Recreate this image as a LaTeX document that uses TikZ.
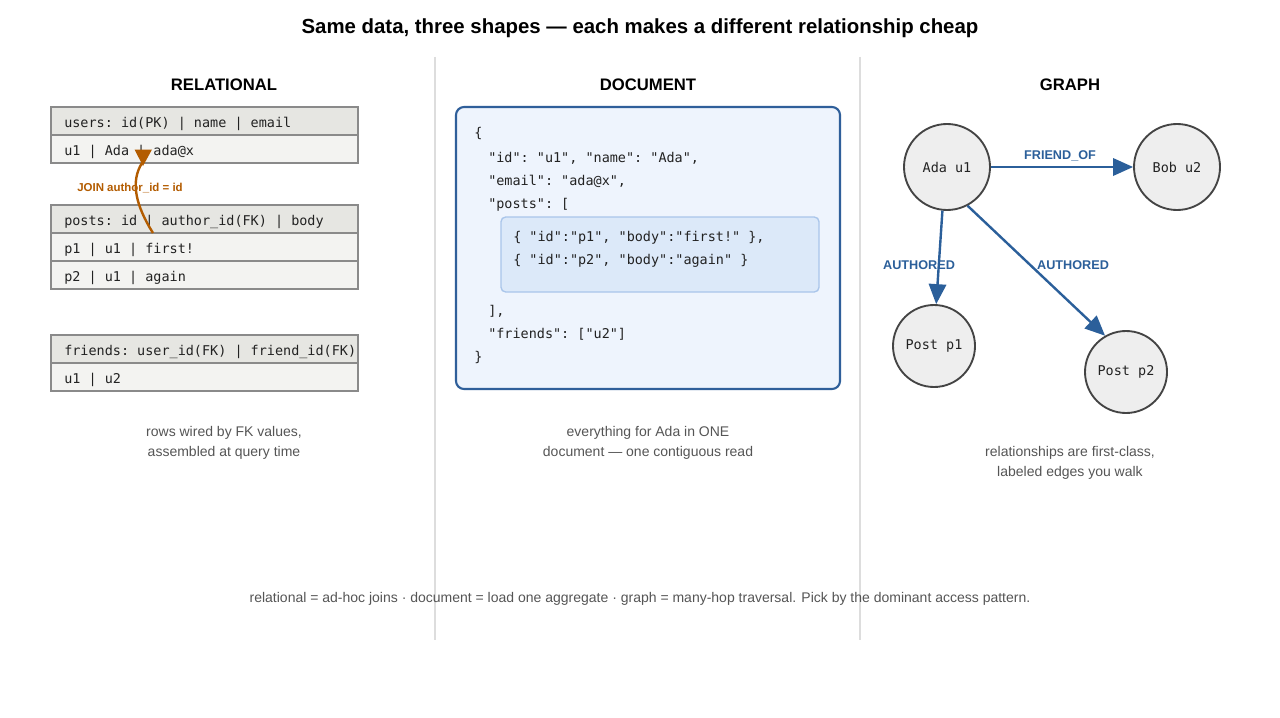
\documentclass[tikz,border=0pt]{standalone}
\usepackage{fontspec}
\setmainfont{Liberation Sans}
\setsansfont{Liberation Sans}
\setmonofont{DejaVu Sans Mono}
\usetikzlibrary{arrows.meta}
\definecolor{tblborder}{HTML}{8A8A8A}
\definecolor{tblhead}{HTML}{E6E6E2}
\definecolor{tblrow}{HTML}{F3F3F1}
\definecolor{txt}{HTML}{222222}
\definecolor{captxt}{HTML}{555555}
\definecolor{divider}{HTML}{DDDDDD}
\definecolor{joincol}{HTML}{B35C00}
\definecolor{docborder}{HTML}{2F5F9A}
\definecolor{docfill}{HTML}{EEF4FD}
\definecolor{innerfill}{HTML}{DCE9F9}
\definecolor{innerborder}{HTML}{A9C5EA}
\definecolor{edgecol}{HTML}{2B5F9A}
\definecolor{nodefill}{HTML}{EEEEEE}
\definecolor{nodeborder}{HTML}{444444}
\tikzset{
  headcell/.style={draw=tblborder, line width=1.1pt, fill=tblhead},
  rowcell/.style={draw=tblborder, line width=1.1pt, fill=tblrow},
  mono/.style={font=\ttfamily\fontsize{10.1}{12}\selectfont, text=txt, anchor=west, inner sep=0pt},
  coltitle/.style={font=\bfseries\fontsize{12.5}{14}\selectfont, text=black},
  caption/.style={font=\fontsize{10.5}{12}\selectfont, text=captxt},
  gnode/.style={circle, draw=nodeborder, line width=1.4pt, fill=nodefill, minimum size=86pt*0.75, inner sep=0pt, font=\ttfamily\fontsize{10.1}{12}\selectfont, text=txt},
  gnodes/.style={gnode, minimum size=82pt*0.75},
  edge/.style={draw=edgecol, line width=1.8pt, -{Triangle[length=15pt,width=13pt]}},
  elabel/.style={font=\bfseries\fontsize{9.5}{11}\selectfont, text=edgecol},
}
\begin{document}
\begin{tikzpicture}[x=0.75pt,y=-0.75pt]
\useasboundingbox (0,0) rectangle (1280,717);
\fill[white] (0,0) rectangle (1280,717);
% title
\node[font=\bfseries\fontsize{15.3}{18}\selectfont, text=black] (title) at (640,28) {Same data, three shapes — each makes a different relationship cheap};
% dividers
\draw[divider, line width=1pt] (435,57) -- (435,640);
\draw[divider, line width=1pt] (860,57) -- (860,640);
% column titles
\node[coltitle] (trel) at (224,85) {RELATIONAL};
\node[coltitle] (tdoc) at (648,85) {DOCUMENT};
\node[coltitle] (tgraph) at (1070,85) {GRAPH};

% relational tables
\draw[headcell] (51,107) rectangle (358,135);
\draw[rowcell] (51,135) rectangle (358,163);
\node[mono] (uh) at (64,124) {users: id(PK) | name | email};
\node[mono] (ur) at (64,152) {u1 | Ada | ada@x};

\draw[headcell] (51,205) rectangle (358,233);
\draw[rowcell] (51,233) rectangle (358,261);
\draw[rowcell] (51,261) rectangle (358,289);
\node[mono] (ph) at (64,222) {posts: id | author\_id(FK) | body};
\node[mono] (p1r) at (64,250) {p1 | u1 | first!};
\node[mono] (p2r) at (64,278) {p2 | u1 | again};

\draw[headcell] (51,335) rectangle (358,363);
\draw[rowcell] (51,363) rectangle (358,391);
\node[mono] (fh) at (64,352) {friends: user\_id(FK) | friend\_id(FK)};
\node[mono] (fr) at (64,380) {u1 | u2};

% join arrow (head drawn as in the reference: a down-pointing triangle at the upper end)
\coordinate (jstart) at (153,233);
\coordinate (jend) at (142,163);
\draw[joincol, line width=1.8pt] (jstart) .. controls (136,206) and (130,182) .. (jend);
\fill[joincol] (134.5,149.5) -- (152,149.5) -- (143,166) -- cycle;
\node[font=\bfseries\fontsize{8.6}{10}\selectfont, text=joincol] (jlabel) at (130,188.5) {JOIN author\_id = id};

\node[caption] (crel1) at (224,432.5) {rows wired by FK values,};
\node[caption] (crel2) at (224,452.5) {assembled at query time};

% document
\draw[draw=docborder, fill=docfill, line width=1.6pt, rounded corners=6pt] (456,107) rectangle (840,389);
\draw[draw=innerborder, fill=innerfill, line width=1pt, rounded corners=3.5pt] (501,217) rectangle (819,292);
\node[mono] (d1) at (474,133.5) {\{};
\node[mono] (d2) at (488,158.5) {"id": "u1", "name": "Ada",};
\node[mono] (d3) at (488,181.5) {"email": "ada@x",};
\node[mono] (d4) at (488,204.5) {"posts": [};
\node[mono] (d5) at (513,237.5) {\{ "id":"p1", "body":"first!" \},};
\node[mono] (d6) at (513,260.5) {\{ "id":"p2", "body":"again" \}};
\node[mono] (d7) at (488,311.5) {],};
\node[mono] (d8) at (488,334.5) {"friends": ["u2"]};
\node[mono] (d9) at (474,357.5) {\}};

\node[caption] (cdoc1) at (648,432.5) {everything for Ada in ONE};
\node[caption] (cdoc2) at (648,452.5) {document — one contiguous read};

% graph
\node[gnode] (ada) at (947,167) {Ada u1};
\node[gnode] (bob) at (1177,167) {Bob u2};
\node[gnodes] (pp1) at (934,346) {Post p1};
\node[gnodes] (pp2) at (1126,372) {Post p2};
\draw[edge] (ada) -- (bob);
\draw[edge] (ada.{-96.6}) -- (pp1.{87});
\draw[edge] (ada.{-62.9}) -- (pp2.{120});
\node[elabel] (lf) at (1060,155.5) {FRIEND\_OF};
\node[elabel] (la1) at (919,265.5) {AUTHORED};
\node[elabel] (la2) at (1073,265.5) {AUTHORED};

\node[caption] (cg1) at (1070,452.5) {relationships are first-class,};
\node[caption] (cg2) at (1070,472.5) {labeled edges you walk};

% bottom
\node[caption] (bottom) at (640,598.5) {relational = ad-hoc joins · document = load one aggregate · graph = many-hop traversal. Pick by the dominant access pattern.};
\end{tikzpicture}
\end{document}
